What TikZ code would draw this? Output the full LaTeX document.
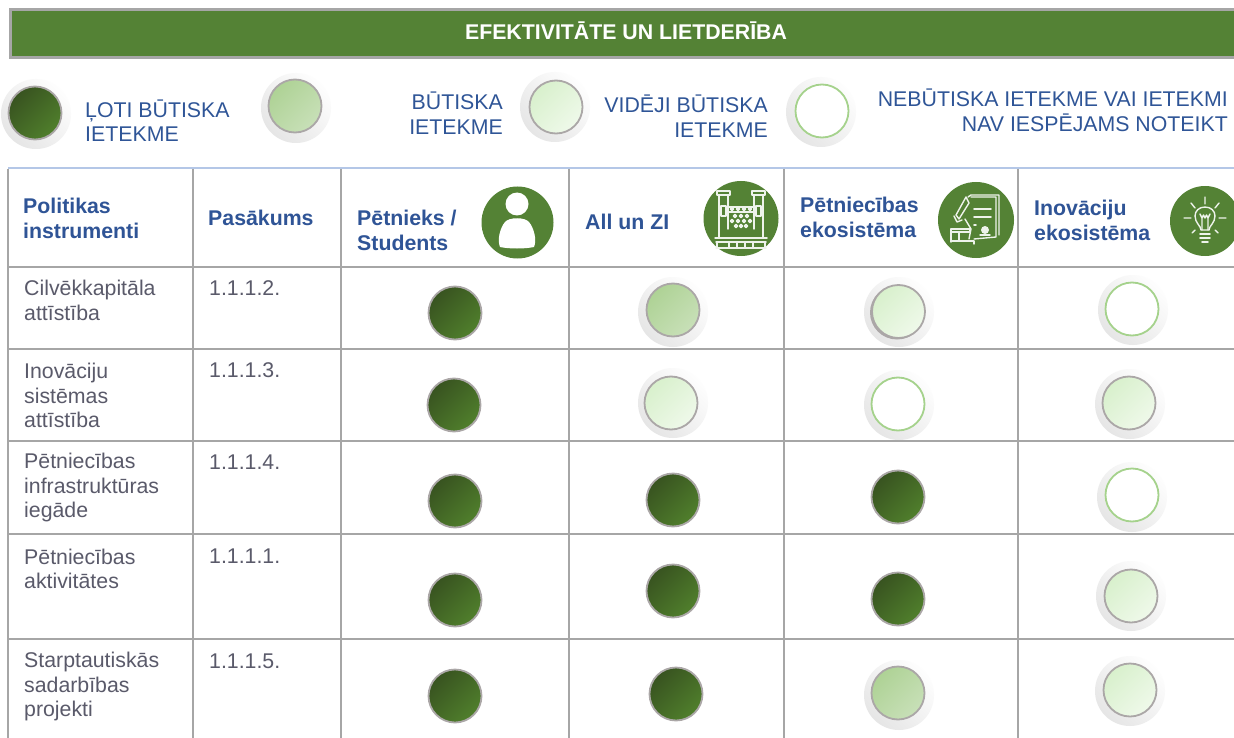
\documentclass[tikz,border=0pt]{standalone}
\usepackage{fontspec}
\setmainfont{Liberation Sans}
\definecolor{grn}{HTML}{548235}
\definecolor{rule}{HTML}{A6A6A6}
\definecolor{toprule}{HTML}{B4C7E7}
\definecolor{hblue}{HTML}{2F5496}
\definecolor{lblue}{HTML}{2F5597}
\definecolor{bodyg}{HTML}{5A5A6A}
\definecolor{ringg}{HTML}{ABA7A7}
\definecolor{DKa}{HTML}{385320}
\definecolor{DKb}{HTML}{507F2C}
\definecolor{MDa}{HTML}{AED295}
\definecolor{MDb}{HTML}{C8E0B8}
\definecolor{LTa}{HTML}{D8F0CC}
\definecolor{LTb}{HTML}{EFF9EA}
\definecolor{BLd}{HTML}{A5D28C}
\tikzset{
  halo/.style={circle,minimum size=70pt,inner sep=0pt,left color=black!10,right color=black!0.5,shading angle=135},
  dotbase/.style={circle,minimum size=53pt,inner sep=0pt,line width=1.8pt,draw=ringg},
  dark/.style={dotbase,left color=DKa,right color=DKb,shading angle=45},
  med/.style={dotbase,left color=MDa,right color=MDb,shading angle=45},
  light/.style={dotbase,left color=LTa,right color=LTb,shading angle=45},
  blank/.style={circle,minimum size=53pt,inner sep=0pt,line width=1.8pt,draw=BLd,fill=white},
  rimshadow/.style={circle,minimum size=54pt,inner sep=0pt,fill=ringg},
  tline/.style={rule,line width=2pt},
  legendtxt/.style={inner sep=0pt,text=lblue,font=\fontsize{21.3}{24.5}\selectfont},
  headtxt/.style={inner sep=0pt,anchor=west,align=left,text=hblue,font=\fontsize{21.3}{25}\selectfont\bfseries},
  bodytxt/.style={inner sep=0pt,anchor=west,align=left,text=bodyg,font=\fontsize{21.3}{24.5}\selectfont},
  icondisc/.style={circle,fill=grn,inner sep=0pt},
  ic/.style={white!90!grn,line width=1.5pt,line cap=round,line join=round},
  ict/.style={white!90!grn,line width=1.4pt,line cap=round,line join=round},
}
% name, style, x, y, halo dx, halo dy
\newcommand{\dotH}[6]{\node[halo] (#1h) at (#3+#5,#4+#6) {};\node[#2] (#1) at (#3,#4) {};}
\newcommand{\dotN}[4]{\node[#2] (#1) at (#3,#4) {};}
\begin{document}
\begin{tikzpicture}[x=1pt,y=-1pt]
\useasboundingbox (0,0) rectangle (1234,738);
\fill[white] (0,0) rectangle (1234,738);
% banner
\node[inner sep=0pt,minimum width=1240pt,minimum height=48pt,anchor=north west,fill=grn,draw=rule,line width=3pt] (banner) at (8.5,8.5) {};
\node[inner sep=0pt,text=white,font=\fontsize{21.3}{24}\selectfont\bfseries] (title) at (626,31) {EFEKTIVITĀTE UN LIETDERĪBA};
% legend
\dotH{la}{dark}{35}{113}{1}{1}
\node[legendtxt,anchor=west,align=left] (lat) at (85,120.5) {ĻOTI BŪTISKA\\IETEKME};
\dotH{lb}{med}{295}{106}{1}{2}
\node[legendtxt,anchor=east,align=right] (lbt) at (503,113) {BŪTISKA\\IETEKME};
\dotH{lc}{light}{556}{107}{-1}{0}
\node[legendtxt,anchor=east,align=right] (lct) at (768,116) {VIDĒJI BŪTISKA\\IETEKME};
\dotH{ld}{blank}{822}{111}{-1}{1}
\node[legendtxt,anchor=east,align=right] (ldt) at (1228,110.5) {NEBŪTISKA IETEKME VAI IETEKMI\\NAV IESPĒJAMS NOTEIKT};
% table rules
\draw[toprule,line width=1.5pt] (8,168) -- (1234,168);
\foreach \x in {8,193,341,569,784,1018}{
  \draw[tline] (\x,169) -- (\x,738);
}
\foreach \y in {267,349,441,534,639}{
  \draw[tline] (8,\y) -- (1234,\y);
}
% header
\node[headtxt] (h1) at (23,218.5) {Politikas\\instrumenti};
\node[headtxt] (h2) at (208,218) {Pasākums};
\node[headtxt] (h3) at (357,230) {Pētnieks /\\Students};
\node[headtxt] (h4) at (585,222) {All un ZI};
\node[headtxt] (h5) at (800,217) {Pētniecības\\ekosistēma};
\node[headtxt] (h6) at (1034,220.5) {Inovāciju\\ekosistēma};
% icons
\node[icondisc,minimum size=72pt] (i1) at (517.5,222.5) {};
\fill[white] (517,204) circle (11.5);
\fill[white] (500,247) .. controls (497,240) and (500,228) .. (505,222) .. controls (509,217) and (525,217) .. (529,222) .. controls (534,228) and (537,240) .. (534,247) .. controls (525,249) and (509,249) .. (500,247) -- cycle;
\node[icondisc,minimum size=75pt] (i2) at (741,218.5) {};
\begin{scope}[shift={(741,219)},ic]
  \draw (-24,-28) rectangle (-11,-24); \draw (11,-28) rectangle (24,-24);
  \draw (-22,-24) -- (-22,19); \draw (22,-24) -- (22,19); \draw (-13,-24) -- (-13,-12) -- (13,-12) -- (13,-24);
  \draw (-13,-12) -- (-13,10); \draw (13,-12) -- (13,10);
  \draw (-20,-13) rectangle (-15,-3); \draw (15,-13) rectangle (20,-3);
  \draw (-12,-7) -- (12,-7);
  \foreach \a/\b in {-9/-10,-3/-10,3/-10,9/-10,-6/-3,0/-3,6/-3,-9/2,-3/2,3/2,9/2,-5/7,0/7,5/7}{\draw (\a-1.5,\b) -- (\a,\b-1.5) -- (\a+1.5,\b) -- (\a,\b+1.5) -- cycle;}
  \draw (-26,19) -- (26,19);
  \draw (-25,23) -- (25,23);
  \draw[line width=2.2pt] (-24,23) -- (-24,29) (-12,23) -- (-12,29) (-4,23) -- (-4,29) (4,23) -- (4,29) (12,23) -- (12,29) (24,23) -- (24,29);
  \draw (-25,29) -- (25,29);
\end{scope}
\node[icondisc,minimum size=76pt] (i3) at (976,220) {};
\begin{scope}[shift={(976,220)},ict]
  \draw (-8,-23) -- (-5,-25) -- (23,-25) -- (23,15);
  \draw (-5,-23) -- (20,-23) -- (20,17) -- (-2,19);
  \draw[line width=1.6pt] (-2,-11) -- (15,-11) (-2,-3) -- (15,-3) (-2,5) -- (0,5);
  \draw (-10,-23) -- (-20,-5) -- (-17,-1) -- (-7,-17) -- cycle;
  \draw (-22,-4) -- (-19,2) -- (-14,0);
  \draw (-11,-1) -- (-5,9) -- (-7,19);
  \draw (-25,9) -- (-6,9) -- (-6,12) -- (-25,12) -- cycle;
  \draw (-25,12) -- (-25,22) (-17,12) -- (-17,20);
  \draw (-25,21) -- (-2,21) -- (-2,24);
  \fill (9,10) circle (4);
  \draw (4,15) -- (14,15);
\end{scope}
\node[icondisc,minimum size=70pt] (i4) at (1205,221) {};
\begin{scope}[shift={(1205,221)},ict]
  \draw (-4,9) .. controls (-4,5) and (-10,2) .. (-10,-5) .. controls (-10,-10) and (-6,-14) .. (0,-14) .. controls (6,-14) and (10,-10) .. (10,-5) .. controls (10,2) and (4,5) .. (4,9) -- cycle;
  \draw (-3,9) -- (-3,-3) -- (-5,-7) (3,9) -- (3,-3) -- (5,-7) (-3,-3) -- (-1.5,-6) -- (0,-3) -- (1.5,-6) -- (3,-3);
  \draw[line width=1.8pt] (-5,13) -- (5,13) (-5,17) -- (5,17) (-3,21) -- (3,21);
  \draw (0,-24) -- (0,-17) (-14,-18) -- (-10,-13) (14,-18) -- (10,-13) (-21,-3) -- (-14,-3) (21,-3) -- (14,-3) (-13,12) -- (-10,9) (13,12) -- (10,9);
\end{scope}
% row labels
\node[bodytxt] (r1) at (24,300.5) {Cilvēkkapitāla\\attīstība};
\node[bodytxt] (r2) at (24,395.5) {Inovāciju\\sistēmas\\attīstība};
\node[bodytxt] (r3) at (24,487.5) {Pētniecības\\infrastruktūras\\iegāde};
\node[bodytxt] (r4) at (24,569) {Pētniecības\\aktivitātes};
\node[bodytxt] (r5) at (24,686.5) {Starptautiskās\\sadarbības\\projekti};
\node[bodytxt] (m1) at (209,288.5) {1.1.1.2.};
\node[bodytxt] (m2) at (209,370.5) {1.1.1.3.};
\node[bodytxt] (m3) at (209,462.5) {1.1.1.4.};
\node[bodytxt] (m4) at (209,556.5) {1.1.1.1.};
\node[bodytxt] (m5) at (209,661.5) {1.1.1.5.};
% dots
\dotN{a1}{dark}{455}{313}
\dotH{a2}{med}{673}{310}{0}{2}
\node[halo] (a3h) at (899,312) {};
\node[rimshadow] (a3s) at (897,312.5) {};
\node[light] (a3) at (898.5,311.5) {};
\dotH{a4}{blank}{1132}{309}{1}{1}
\dotN{b1}{dark}{454}{405}
\dotH{b2}{light}{671}{403}{2}{0}
\dotH{b3}{blank}{898}{404}{1}{1}
\dotH{b4}{light}{1129}{403}{1}{1}
\dotN{c1}{dark}{455}{501}
\dotN{c2}{dark}{673}{500}
\dotN{c3}{dark}{898}{497}
\dotH{c4}{blank}{1132}{495}{0}{2}
\dotN{d1}{dark}{455}{600}
\dotN{d2}{dark}{673}{591}
\dotN{d3}{dark}{898}{599}
\dotH{d4}{light}{1131}{596}{0}{0}
\dotN{e1}{dark}{455}{696}
\dotN{e2}{dark}{676}{694}
\dotH{e3}{med}{898}{693}{1}{2}
\dotH{e4}{light}{1130}{690}{0}{1}
\end{tikzpicture}
\end{document}
